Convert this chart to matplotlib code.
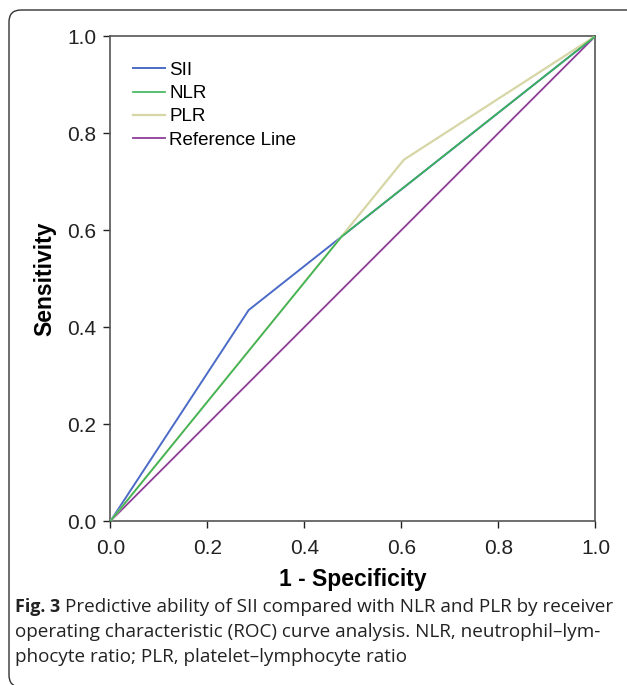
import matplotlib
matplotlib.use('Agg')
import matplotlib.pyplot as plt
from matplotlib.patches import FancyBboxPatch

# ROC curve vertices (1 - specificity, sensitivity)
sii_x = [0.0, 0.285, 1.0]
sii_y = [0.0, 0.435, 1.0]
nlr_x = [0.0, 0.477, 1.0]
nlr_y = [0.0, 0.587, 1.0]
plr_x = [0.0, 0.605, 1.0]
plr_y = [0.0, 0.745, 1.0]
ref_x = [0.0, 1.0]
ref_y = [0.0, 1.0]

labels = ['SII', 'NLR', 'PLR', 'Reference Line']
colors = ['#4b6bc6', '#3bb455', '#d6d6a6', '#8f3d98']
ticks = [0.0, 0.2, 0.4, 0.6, 0.8, 1.0]

plt.rcParams['font.family'] = ['Liberation Sans', 'DejaVu Sans']

fig = plt.figure(figsize=(6.27, 6.85), dpi=100)
ax = fig.add_axes([0.1762, 0.2394, 0.7735, 0.708])

l_ref, = ax.plot(ref_x, ref_y, color=colors[3], lw=1.3, zorder=2)
l_sii, = ax.plot(sii_x, sii_y, color=colors[0], lw=1.4, zorder=3)
l_plr, = ax.plot(plr_x, plr_y, color=colors[2], lw=1.6, zorder=4)
l_nlr, = ax.plot(nlr_x, nlr_y, color=colors[1], lw=1.2, zorder=5)

ax.set_xlim(0, 1)
ax.set_ylim(0, 1)
ax.set_xticks(ticks)
ax.set_yticks(ticks)
ax.set_xticklabels(['%.1f' % t for t in ticks])
ax.set_yticklabels(['%.1f' % t for t in ticks])
ax.tick_params(direction='out', length=5, width=1, labelsize=15, colors='#222222')
ax.tick_params(axis='x', pad=8)
ax.tick_params(axis='y', pad=5)
for s in ax.spines.values():
    s.set_color('#555555')
    s.set_linewidth(1.2)

ax.set_xlabel('1 - Specificity', fontsize=16.5, fontweight='bold', labelpad=7)
ax.set_ylabel('Sensitivity', fontsize=16.5, fontweight='bold', labelpad=8)

ax.legend([l_sii, l_nlr, l_plr, l_ref], labels, loc='upper left',
          bbox_to_anchor=(0.0165, 0.978), frameon=False, fontsize=13.5,
          handlelength=1.7, handletextpad=0.2, labelspacing=0.33, borderaxespad=0.4)

# caption
cap_font = ['Open Sans', 'DejaVu Sans']
cap_size = 13.6
fig.text(15 / 627, 1 - 612 / 685, 'Fig. 3', fontsize=12.9, fontweight='bold', family=cap_font, color='#222222')
fig.text(65 / 627, 1 - 612 / 685, 'Predictive ability of SII compared with NLR and PLR by receiver',
         fontsize=cap_size, family=cap_font, color='#222222')
fig.text(15 / 627, 1 - 637 / 685, 'operating characteristic (ROC) curve analysis. NLR, neutrophil\u2013lym-',
         fontsize=cap_size, family=cap_font, color='#222222')
fig.text(15 / 627, 1 - 662 / 685, 'phocyte ratio; PLR, platelet\u2013lymphocyte ratio',
         fontsize=cap_size, family=cap_font, color='#222222')

# rounded frame (left and top edges visible)
frame = FancyBboxPatch((0.09, -0.02), 6.5, 6.77, boxstyle='round,pad=0,rounding_size=0.12',
                       transform=fig.dpi_scale_trans, fill=False, edgecolor='#333333', lw=1.0)
fig.patches.append(frame)

fig.savefig('out.png', dpi=100)
